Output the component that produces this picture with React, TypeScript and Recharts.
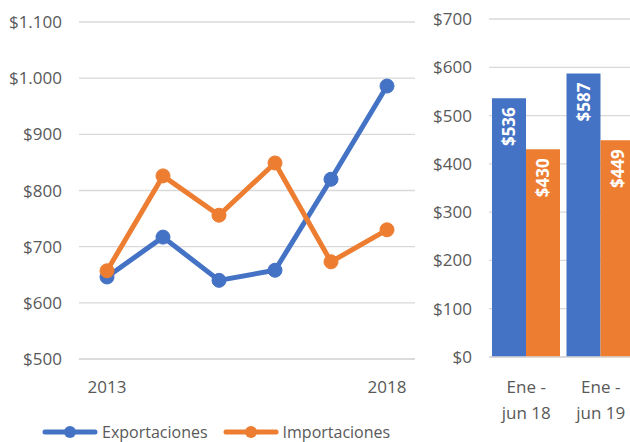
import { LineChart, Line, BarChart, Bar, XAxis, YAxis, CartesianGrid, Legend, LabelList } from 'recharts';

const years = ['2013', '2014', '2015', '2016', '2017', '2018'];
const exportaciones = [646, 717, 640, 658, 820, 986];
const importaciones = [657, 826, 756, 849, 673, 730];
const lineYTicks = [500, 600, 700, 800, 900, 1000, 1100];
const lineXLabels = ['2013', '2018'];

const periods = ['Ene - jun 18', 'Ene - jun 19'];
const periodExport = [536, 587];
const periodImport = [430, 449];
const barYTicks = [0, 100, 200, 300, 400, 500, 600, 700];

const BLUE = '#4472C4';
const ORANGE = '#ED7D31';
const TEXT = '#595959';
const GRID = '#d9d9d9';

const series = [
  { key: 'exportaciones', name: 'Exportaciones', color: BLUE },
  { key: 'importaciones', name: 'Importaciones', color: ORANGE },
];

const lineData = years.map((year, i) => ({
  year,
  exportaciones: exportaciones[i],
  importaciones: importaciones[i],
}));

const barData = periods.map((period, i) => ({
  period,
  exportaciones: periodExport[i],
  importaciones: periodImport[i],
}));

// Excel-style money: $1.100, $900
const money = (v: number) => {
  if (v >= 1000) {
    return `$${Math.floor(v / 1000)}.${String(v % 1000).padStart(3, '0')}`;
  }
  return `$${v}`;
};

function LegendContent() {
  return (
    <div
      style={{
        display: 'flex',
        alignItems: 'center',
        height: 38,
        paddingTop: 18,
        paddingLeft: 42,
        boxSizing: 'border-box',
        fontSize: 16,
        color: TEXT,
      }}
    >
      {series.map((s, i) => (
        <div key={s.key} style={{ display: 'flex', alignItems: 'center', marginLeft: i === 0 ? 0 : 15 }}>
          <svg width={56} height={16}>
            <line x1={3} y1={8} x2={53} y2={8} stroke={s.color} strokeWidth={5} strokeLinecap="round" />
            <circle cx={28} cy={8} r={6} fill={s.color} />
          </svg>
          <span style={{ marginLeft: 4, lineHeight: '20px' }}>{s.name}</span>
        </div>
      ))}
    </div>
  );
}

function PeriodTick(props: any) {
  const { x, y, payload } = props;
  const parts = String(payload.value).split(' - ');
  return (
    <text x={x} y={y} textAnchor="middle" fill={TEXT} fontSize={17}>
      <tspan x={x} dy={36}>{parts[0] + ' -'}</tspan>
      <tspan x={x} dy={26}>{parts[1]}</tspan>
    </text>
  );
}

function BarValueLabel(props: any) {
  const { x, y, width, value } = props;
  const cx = x + width / 2;
  const cy = y + 9;
  return (
    <text
      x={cx}
      y={cy}
      transform={`rotate(-90 ${cx} ${cy})`}
      textAnchor="end"
      dy="0.36em"
      fill="#fff"
      fontSize={17}
      fontWeight={700}
    >
      {money(value)}
    </text>
  );
}

export default function App() {
  return (
    <div
      style={{
        position: 'absolute',
        left: 0,
        top: 0,
        width: 630,
        height: 442,
        overflow: 'hidden',
        background: '#fff',
        fontFamily: '"Open Sans", sans-serif',
      }}
    >
      <div style={{ position: 'absolute', left: 0, top: 0 }}>
        <LineChart width={420} height={442} data={lineData} margin={{ top: 22, right: 5, left: 0, bottom: 0 }}>
          <CartesianGrid vertical={false} stroke={GRID} strokeWidth={1.3} />
          <XAxis
            dataKey="year"
            interval={0}
            padding={{ left: 28, right: 28 }}
            height={45}
            tickSize={0}
            tickMargin={22}
            axisLine={{ stroke: GRID, strokeWidth: 1.3 }}
            tick={{ fill: TEXT, fontSize: 17 }}
            tickFormatter={(v) => (lineXLabels.includes(v) ? v : '')}
          />
          <YAxis
            domain={[500, 1100]}
            ticks={lineYTicks}
            width={79}
            tickSize={0}
            tickMargin={17}
            axisLine={false}
            tick={{ fill: TEXT, fontSize: 17 }}
            tickFormatter={money}
          />
          <Legend verticalAlign="bottom" height={38} content={<LegendContent />} wrapperStyle={{ left: 0, bottom: 0 }} />
          {series.map((s) => (
            <Line
              key={s.key}
              dataKey={s.key}
              name={s.name}
              type="linear"
              stroke={s.color}
              strokeWidth={5}
              strokeLinejoin="round"
              dot={{ r: 7, fill: s.color, stroke: s.color, strokeWidth: 1 }}
              activeDot={false}
              isAnimationActive={false}
            />
          ))}
        </LineChart>
      </div>
      <div style={{ position: 'absolute', left: 420, top: 0 }}>
        <BarChart
          width={220}
          height={442}
          data={barData}
          margin={{ top: 19, right: 2, left: 0, bottom: 0 }}
          barCategoryGap={3}
          barGap={0}
        >
          <CartesianGrid vertical={false} stroke={GRID} strokeWidth={1.3} />
          <XAxis
            dataKey="period"
            interval={0}
            height={85}
            tickSize={0}
            tickMargin={0}
            axisLine={{ stroke: GRID, strokeWidth: 1.5 }}
            tick={<PeriodTick />}
          />
          <YAxis
            domain={[0, 700]}
            ticks={barYTicks}
            width={69}
            tickSize={0}
            tickMargin={17}
            axisLine={false}
            tick={{ fill: TEXT, fontSize: 17 }}
            tickFormatter={money}
          />
          {series.map((s) => (
            <Bar key={s.key} dataKey={s.key} name={s.name} fill={s.color} isAnimationActive={false}>
              <LabelList dataKey={s.key} content={<BarValueLabel />} />
            </Bar>
          ))}
        </BarChart>
      </div>
    </div>
  );
}
